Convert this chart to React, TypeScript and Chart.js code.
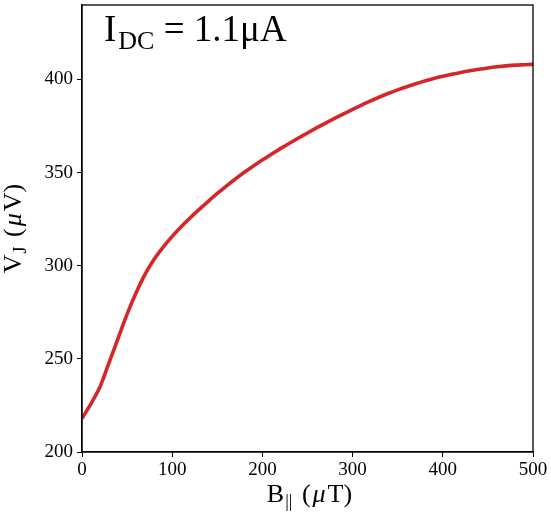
import React, { useEffect, useRef } from "react";
import { Chart, registerables } from "chart.js";

Chart.register(...registerables);

// Parallel field sweep (µT) and junction voltage (µV)
const fieldB: number[] = [
  0, 10, 20, 30, 40, 50, 60, 70, 80, 90, 100, 110, 120, 130, 140, 150, 160, 170, 180, 190,
  200, 210, 220, 230, 240, 250, 260, 270, 280, 290, 300, 310, 320, 330, 340, 350, 360, 370,
  380, 390, 400, 410, 420, 430, 440, 450, 460, 470, 480, 490, 500,
];
const voltageVJ: number[] = [
  218, 226, 235, 248, 261, 274, 285.5, 295.5, 303.5, 310, 315.8, 321, 325.8, 330.3, 334.6, 338.8,
  342.8, 346.6, 350.2, 353.6, 356.8, 359.9, 362.9, 365.8, 368.6, 371.3, 374, 376.6, 379.1,
  381.5, 383.9, 386.3, 388.5, 390.6, 392.6, 394.4, 396.1, 397.7, 399.2, 400.5, 401.7, 402.8,
  403.8, 404.7, 405.5, 406.2, 406.8, 407.3, 407.7, 407.9, 408.1,
];
const xTicks: number[] = [0, 100, 200, 300, 400, 500];
const yTicks: number[] = [200, 250, 300, 350, 400];

const SERIF = "'Liberation Serif', 'DejaVu Serif', serif";

type Piece = { text: string; size: number; dy: number; italic?: boolean; gap?: number };

function drawPieces(ctx: CanvasRenderingContext2D, pieces: Piece[], x: number, y: number, align: "left" | "center") {
  let total = 0;
  const widths = pieces.map((p) => {
    ctx.font = `${p.italic ? "italic " : ""}${p.size}px ${SERIF}`;
    const w = ctx.measureText(p.text).width + (p.gap || 0);
    total += w;
    return w;
  });
  let cx = align === "center" ? x - total / 2 : x;
  pieces.forEach((p, i) => {
    ctx.font = `${p.italic ? "italic " : ""}${p.size}px ${SERIF}`;
    ctx.fillText(p.text, cx, y + p.dy);
    cx += widths[i];
  });
}

const decorations = {
  id: "decorations",
  afterDraw(chart: any) {
    const { ctx, chartArea } = chart;
    const { left, right, top, bottom } = chartArea;
    ctx.save();
    // frame around the plot
    ctx.strokeStyle = "#000";
    ctx.lineWidth = 1.3;
    ctx.strokeRect(left, top, right - left, bottom - top);

    ctx.fillStyle = "#000";
    ctx.textBaseline = "alphabetic";
    ctx.textAlign = "left";

    // current annotation
    drawPieces(
      ctx,
      [
        { text: "I", size: 37, dy: 0, gap: 2 },
        { text: "DC", size: 26, dy: 8 },
        { text: " = 1.1\u03bcA", size: 37, dy: 0 },
      ],
      104,
      41,
      "left"
    );

    // x-axis title
    drawPieces(
      ctx,
      [
        { text: "B", size: 26, dy: 0, gap: 1 },
        { text: "||", size: 18, dy: 5, gap: 3 },
        { text: " (", size: 26, dy: 0, gap: 2 },
        { text: "\u03bc", size: 26, dy: 0, italic: true, gap: 2 },
        { text: "T)", size: 26, dy: 0 },
      ],
      (left + right) / 2 + 2,
      502,
      "center"
    );

    // y-axis title (rotated)
    ctx.translate(21, (top + bottom) / 2);
    ctx.rotate(-Math.PI / 2);
    drawPieces(
      ctx,
      [
        { text: "V", size: 26, dy: 0, gap: 1 },
        { text: "J", size: 18, dy: 5, gap: 3 },
        { text: " (", size: 26, dy: 0, gap: 2 },
        { text: "\u03bc", size: 26, dy: 0, italic: true, gap: 2 },
        { text: "V)", size: 26, dy: 0 },
      ],
      0,
      0,
      "center"
    );
    ctx.restore();
  },
};

export default function App() {
  const canvasRef = useRef<HTMLCanvasElement | null>(null);

  useEffect(() => {
    if (!canvasRef.current) return;
    const chart = new Chart(canvasRef.current, {
      type: "line",
      data: {
        datasets: [
          {
            data: fieldB.map((b, i) => ({ x: b, y: voltageVJ[i] })),
            borderColor: "#d62728",
            borderWidth: 3.6,
            pointRadius: 0,
            tension: 0.4,
            cubicInterpolationMode: "monotone",
            fill: false,
          },
        ],
      },
      options: {
        animation: false,
        responsive: false,
        maintainAspectRatio: false,
        layout: { padding: { left: 0, right: 18, top: 5, bottom: 0 } },
        plugins: { legend: { display: false }, tooltip: { enabled: false } },
        scales: {
          x: {
            type: "linear",
            min: 0,
            max: 500,
            afterBuildTicks: (s: any) => {
              s.ticks = xTicks.map((v) => ({ value: v }));
            },
            afterFit: (s: any) => {
              s.height = 72;
              s.paddingLeft = 0;
              s.paddingRight = 0;
            },
            grid: { drawOnChartArea: false, drawTicks: true, tickLength: 5, color: "#000", lineWidth: 1 },
            border: { display: true, color: "#000", width: 1.3 },
            ticks: { color: "#000", font: { family: SERIF, size: 19 }, padding: 2, maxRotation: 0 },
          },
          y: {
            type: "linear",
            min: 200,
            max: 440,
            afterBuildTicks: (s: any) => {
              s.ticks = yTicks.map((v) => ({ value: v }));
            },
            afterFit: (s: any) => {
              s.width = 82;
              s.paddingTop = 0;
              s.paddingBottom = 0;
            },
            grid: { drawOnChartArea: false, drawTicks: true, tickLength: 5, color: "#000", lineWidth: 1 },
            border: { display: true, color: "#000", width: 1.3 },
            ticks: { color: "#000", font: { family: SERIF, size: 19 }, padding: 4 },
          },
        },
      },
      plugins: [decorations],
    });
    return () => chart.destroy();
  }, []);

  return (
    <div style={{ position: "absolute", left: 0, top: 0, width: 551, height: 524, background: "#fff" }}>
      <canvas ref={canvasRef} width={551} height={524} style={{ width: 551, height: 524 }} />
    </div>
  );
}
